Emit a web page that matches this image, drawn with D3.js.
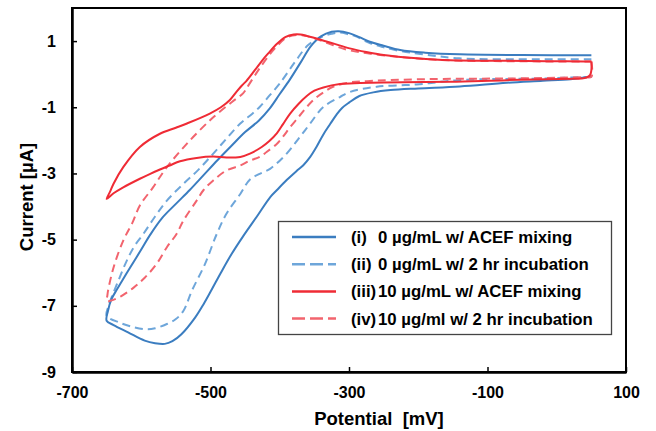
<!DOCTYPE html>
<html>
<head>
<meta charset="UTF-8">
<title>CV</title>
<script src="https://cdn.jsdelivr.net/npm/d3@7"></script>
<style>
    body{ margin:0; background:#fff; }
    svg text{ font-family:"Liberation Sans", Arial, sans-serif; font-weight:bold; fill:#000; }
    .axis text{ font-size:16px; }
    .axis line{ stroke:#000; stroke-width:1.5; }
    .axis path{ stroke:#000; stroke-width:2.5; }
    .title{ font-size:18.5px; white-space:pre; }
    .legend text{ font-size:16.8px; }
</style>
</head>
<body>
<script>
// potential [mV], current [uA] ; each loop
var cvI = [[50,-0.08],[40,-0.1],[20,-0.15],[-20,-0.2],[-72,-0.26],[-140,-0.37],[-200,-0.43],[-240,-0.48],[-265,-0.55],[-285,-0.66],[-300,-0.86],[-310,-1.02],[-318,-1.22],[-327,-1.5],[-337,-1.82],[-347,-2.2],[-356,-2.5],[-366,-2.75],[-376,-2.93],[-390,-3.2],[-404,-3.5],[-414,-3.72],[-433,-4.3],[-453,-4.9],[-470,-5.45],[-485,-6.0],[-498,-6.5],[-510,-6.95],[-522,-7.35],[-542,-7.86],[-555,-8.07],[-566,-8.15],[-580,-8.13],[-595,-8.05],[-619,-7.8],[-640,-7.58],[-650,-7.45],
    [-648,-7.15],[-643,-6.8],[-635,-6.5],[-625,-6.15],[-616,-5.84],[-600,-5.3],[-587,-4.85],[-570,-4.35],[-550,-3.92],[-530,-3.5],[-510,-3.05],[-490,-2.6],[-470,-2.17],[-450,-1.75],[-430,-1.4],[-415,-1.05],[-400,-0.6],[-385,-0.15],[-370,0.35],[-355,0.85],[-340,1.15],[-325,1.28],[-315,1.30],[-300,1.24],[-285,1.12],[-270,0.98],[-250,0.86],[-226,0.73],[-190,0.65],[-140,0.60],[-50,0.58],[0,0.575],[40,0.57],[50,0.57]];

var cvII = [[50,-0.08],[40,-0.09],[10,-0.11],[-20,-0.13],[-141,-0.18],[-202,-0.31],[-260,-0.38],[-299,-0.54],[-313,-0.69],[-337,-0.99],[-356,-1.49],[-371,-1.9],[-390,-2.4],[-414,-2.86],[-430,-3.02],[-443,-3.18],[-457,-3.62],[-477,-4.22],[-491,-4.83],[-508,-5.74],[-527,-6.55],[-539,-7.15],[-550,-7.4],[-563,-7.55],[-580,-7.68],[-592,-7.71],[-610,-7.65],[-631,-7.51],[-650,-7.30],
    [-648,-7.05],[-642,-6.7],[-635,-6.34],[-621,-5.64],[-610,-5.2],[-597,-4.83],[-580,-4.3],[-563,-3.82],[-539,-3.31],[-518,-2.9],[-496,-2.4],[-477,-1.95],[-457,-1.49],[-440,-1.2],[-429,-0.99],[-415,-0.65],[-400,-0.28],[-378,0.37],[-359,0.88],[-339,1.13],[-325,1.22],[-313,1.26],[-300,1.2],[-291,1.15],[-270,0.94],[-251,0.82],[-226,0.7],[-197,0.61],[-141,0.48],[-45,0.45],[0,0.45],[40,0.45],[50,0.45]];

var cvIII = [[50,0.38],[50,0.12],[48,-0.03],[43,-0.1],[35,-0.13],[24,-0.14],[-72,-0.18],[-154,-0.23],[-250,-0.25],[-284,-0.27],[-313,-0.3],[-337,-0.4],[-350,-0.5],[-361,-0.66],[-373,-0.9],[-385,-1.19],[-395,-1.5],[-404,-1.78],[-415,-2.02],[-426,-2.2],[-443,-2.4],[-457,-2.5],[-477,-2.52],[-496,-2.49],[-520,-2.53],[-544,-2.63],[-559,-2.76],[-573,-2.88],[-587,-3.01],[-602,-3.16],[-626,-3.42],[-640,-3.6],[-650,-3.77],
    [-645,-3.55],[-640,-3.31],[-626,-2.81],[-602,-2.2],[-573,-1.8],[-550,-1.62],[-534,-1.49],[-501,-1.19],[-485,-1.0],[-472,-0.78],[-462,-0.52],[-455,-0.35],[-448,-0.2],[-436,0.12],[-424,0.45],[-417,0.62],[-404,0.92],[-392,1.12],[-380,1.2],[-370,1.2],[-360,1.15],[-347,1.08],[-323,0.93],[-299,0.78],[-275,0.67],[-250,0.58],[-202,0.48],[-154,0.42],[-45,0.40],[0,0.39],[40,0.385],[50,0.38]];

var cvIV = [[50,0.38],[50,-0.08],[40,-0.09],[24,-0.10],[-72,-0.13],[-190,-0.15],[-274,-0.21],[-299,-0.25],[-323,-0.38],[-337,-0.55],[-350,-0.75],[-361,-0.99],[-373,-1.3],[-385,-1.6],[-395,-1.88],[-404,-2.1],[-419,-2.35],[-429,-2.5],[-443,-2.61],[-457,-2.76],[-477,-2.91],[-496,-3.21],[-510,-3.5],[-520,-3.82],[-539,-4.42],[-549,-4.83],[-563,-5.23],[-578,-5.74],[-595,-6.15],[-611,-6.45],[-630,-6.72],[-645,-6.85],[-650,-6.85],
    [-649,-6.7],[-648,-6.55],[-640,-5.84],[-626,-5.03],[-613,-4.5],[-602,-3.97],[-583,-3.42],[-563,-2.81],[-534,-2.1],[-498,-1.34],[-469,-0.84],[-453,-0.58],[-445,-0.33],[-426,0.27],[-407,0.78],[-388,1.13],[-368,1.18],[-349,1.08],[-330,0.93],[-299,0.72],[-226,0.52],[-154,0.42],[-45,0.39],[0,0.385],[40,0.38],[50,0.38]];

var xTicks = [-700,-500,-300,-100,100];
var yTicks = [1,-1,-3,-5,-7,-9];
var tags = ["(i)","(ii)","(iii)","(iv)"];
var names = ["0 µg/mL w/ ACEF mixing","0 µg/mL w/ 2 hr incubation","10 µg/mL w/ ACEF mixing","10 µg/ml w/ 2 hr incubation"];

var width = 656, height = 431;
var box = {left:72, right:626, top:8, bottom:372};

var series = [
    {data:cvII, color:"#6EA6DA", dash:"8,5"},
    {data:cvI, color:"#3B7DC0", dash:null},
    {data:cvIV, color:"#F2646E", dash:"8,5"},
    {data:cvIII, color:"#EF2B35", dash:null}
];
// legend order i..iv
var legendStyle = [
    {color:"#3B7DC0", dash:null},
    {color:"#6EA6DA", dash:"13,5"},
    {color:"#EF2B35", dash:null},
    {color:"#F2646E", dash:"13,5"}
];

var svg = d3.select("body").append("svg")
    .attr("width",width).attr("height",height);

var x = d3.scaleLinear().domain([-700,100]).range([box.left,box.right]);
var y = d3.scaleLinear().domain([-9,2]).range([box.bottom,box.top]);

// frame
svg.append("rect")
    .attr("x",box.left).attr("y",box.top)
    .attr("width",box.right-box.left).attr("height",box.bottom-box.top)
    .attr("fill","none").attr("stroke","#000").attr("stroke-width",2);

svg.append("g").attr("class","axis")
    .attr("transform","translate(" + box.left + ",0)")
    .call(d3.axisLeft(y).tickValues(yTicks)
        .tickSizeInner(-5).tickSizeOuter(0).tickPadding(16));

svg.append("g").attr("class","axis")
    .attr("transform","translate(0," + box.bottom + ")")
    .call(d3.axisBottom(x).tickValues(xTicks)
        .tickSizeInner(-5).tickSizeOuter(0).tickPadding(15));

// plain hyphen for the minus sign like the original
svg.selectAll(".axis .tick text").text(function(d){ return String(d); });

var line = d3.line()
    .x(function(d){ return x(d[0]); })
    .y(function(d){ return y(d[1]); })
    .curve(d3.curveCatmullRom.alpha(0.5));

series.forEach(function(s){
    svg.append("path")
        .attr("d",line(s.data))
        .attr("fill","none")
        .attr("stroke",s.color)
        .attr("stroke-width",2)
        .attr("stroke-linejoin","round")
        .attr("stroke-dasharray",s.dash);
});

// titles
svg.append("text").attr("class","title")
    .attr("x",379).attr("y",425)
    .attr("text-anchor","middle")
    .text("Potential  [mV]");
svg.append("text").attr("class","title")
    .attr("transform","translate(33,197) rotate(-90)")
    .attr("text-anchor","middle")
    .text("Current [µA]");

// legend
var lg = svg.append("g").attr("class","legend");
lg.append("rect")
    .attr("x",278.5).attr("y",221.5).attr("width",333).attr("height",113)
    .attr("fill","#fff").attr("stroke","#444").attr("stroke-width",1.3);
tags.forEach(function(t,i){
    var ry = 237 + i*27.2;
    lg.append("line")
        .attr("x1",292).attr("x2",336).attr("y1",ry).attr("y2",ry)
        .attr("stroke",legendStyle[i].color).attr("stroke-width",2.5)
        .attr("stroke-dasharray",legendStyle[i].dash);
    lg.append("text").attr("x",351).attr("y",ry).attr("dy","0.36em").text(t);
    lg.append("text").attr("x",378).attr("y",ry).attr("dy","0.36em").text(names[i]);
});
</script>
</body>
</html>
